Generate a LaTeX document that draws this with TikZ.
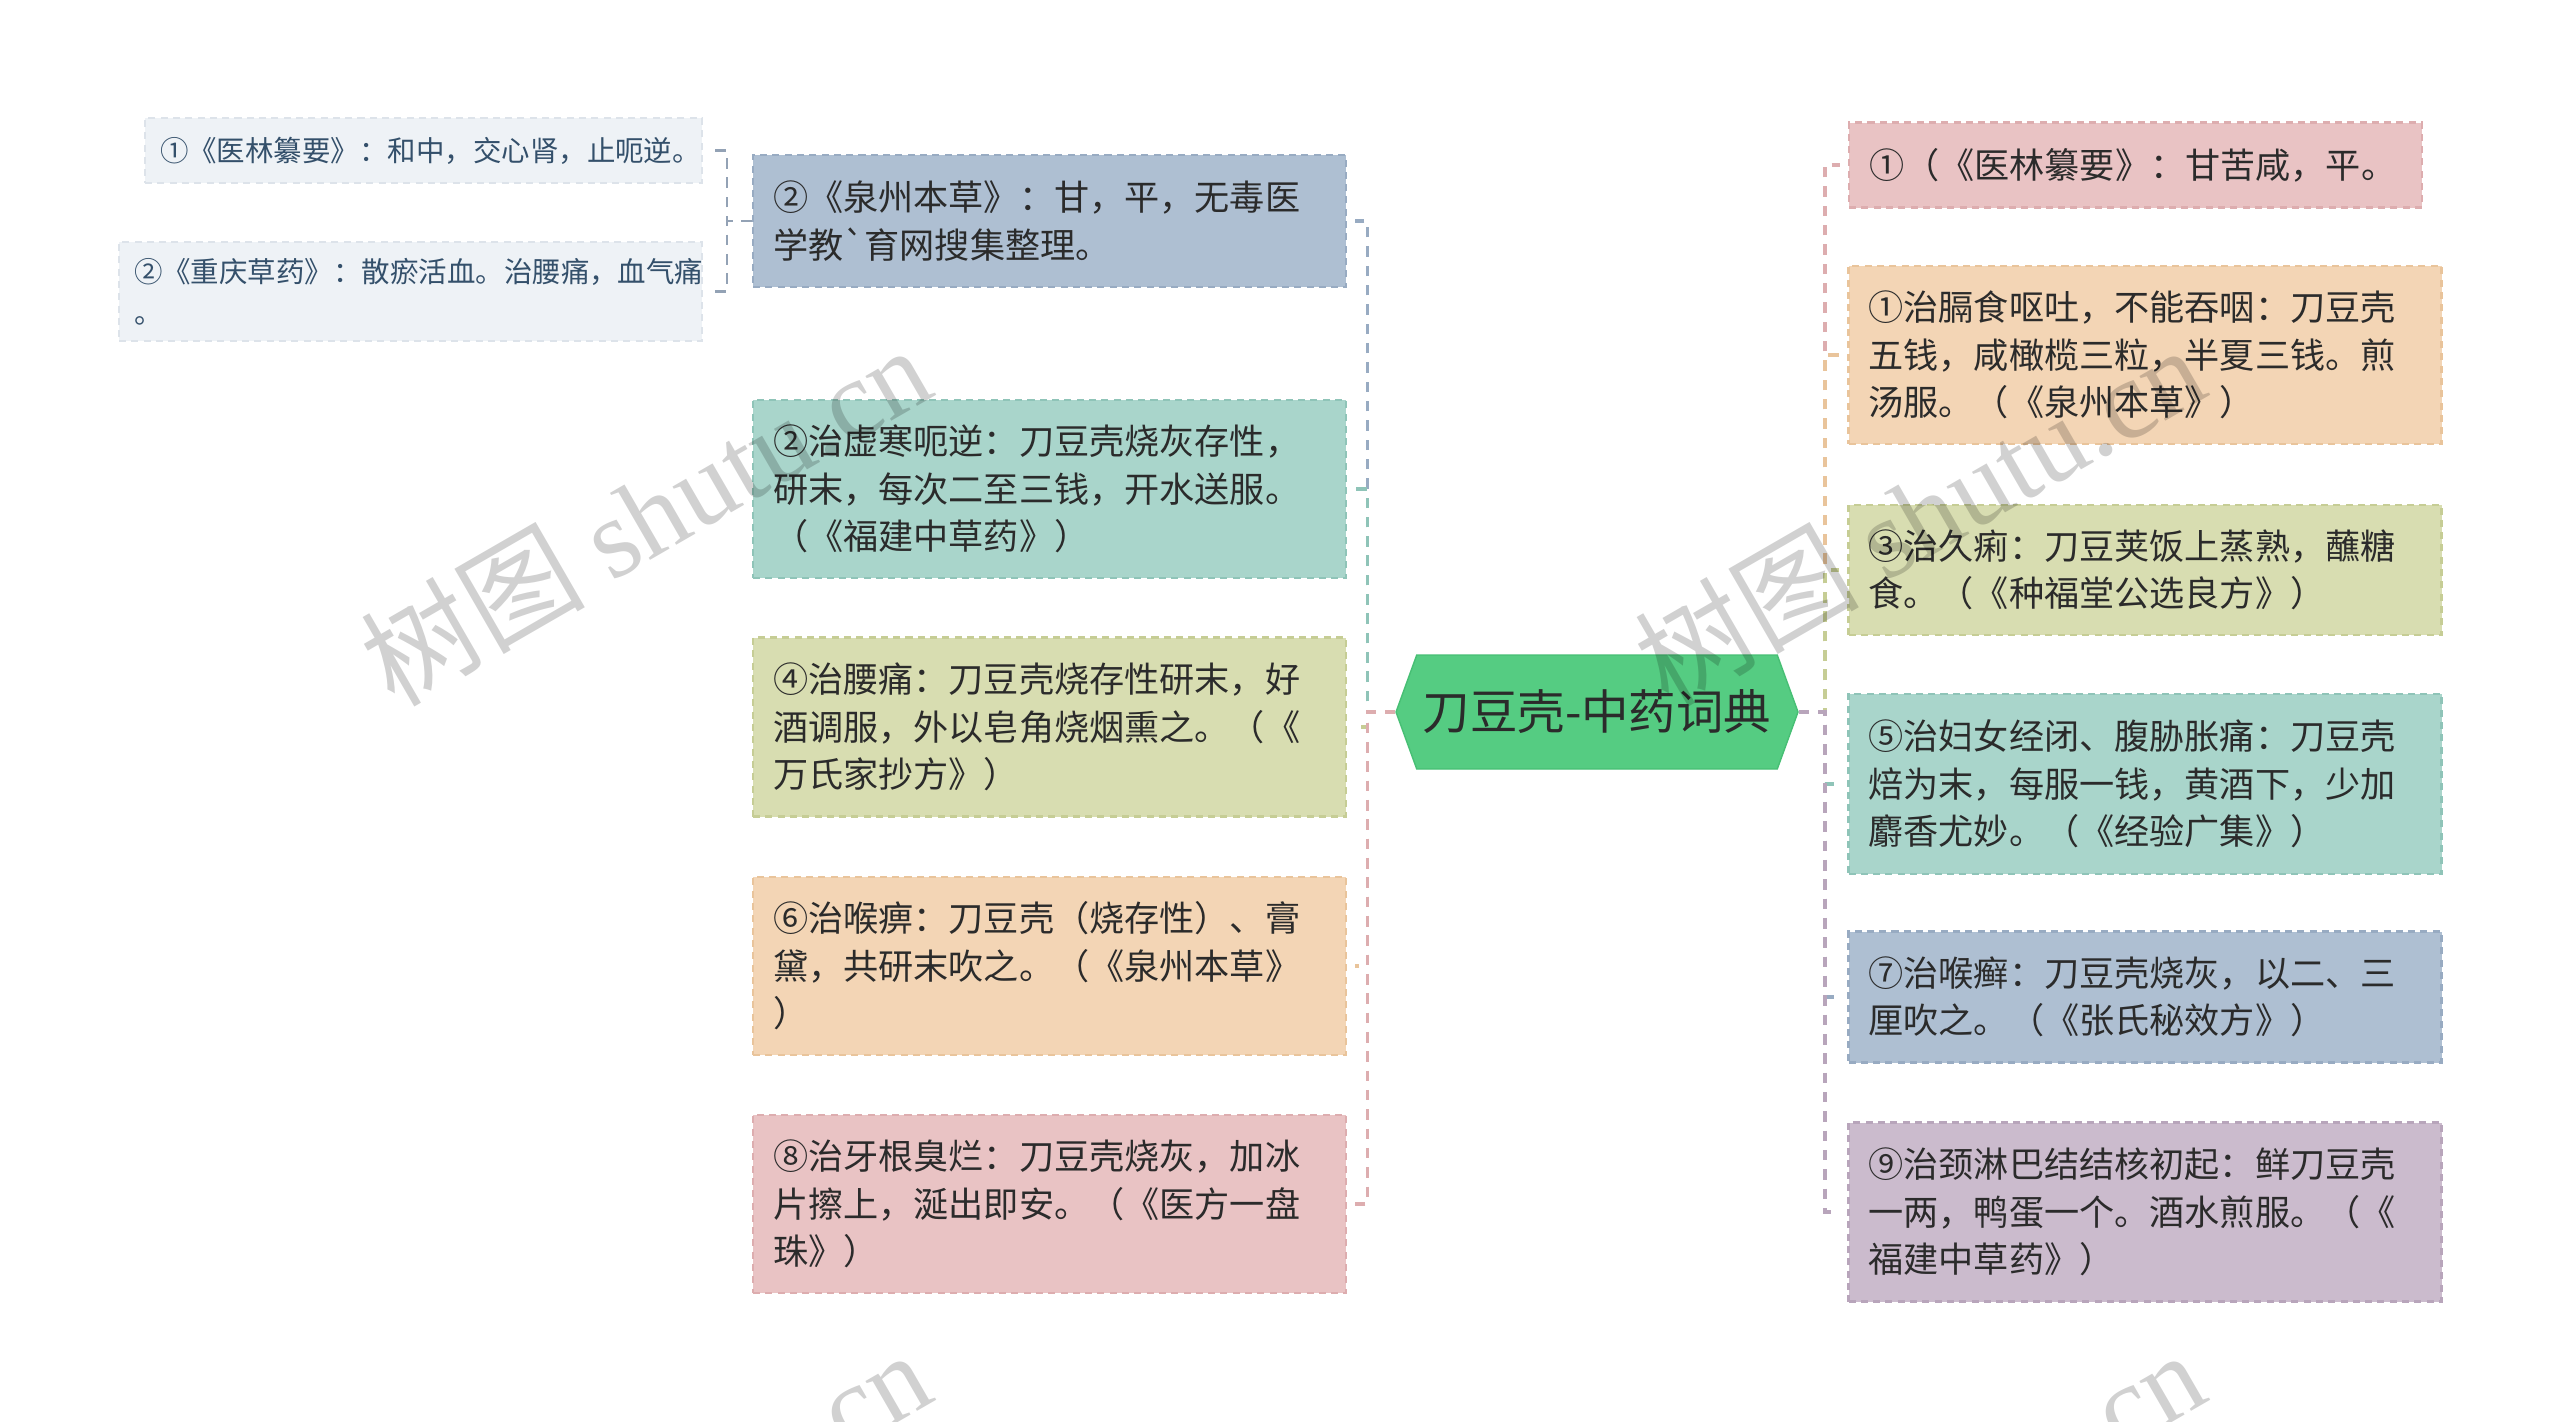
\documentclass[tikz,border=0pt]{standalone}
\usepackage{fontspec}
\setmainfont{Noto Sans CJK SC}
\newfontfamily\markfont{Liberation Serif}
\usetikzlibrary{shapes.symbols}
\definecolor{ink}{HTML}{2B2B2B}
\definecolor{navy}{HTML}{34506B}
\definecolor{slate}{HTML}{AEBFD2}
\definecolor{slateline}{HTML}{98ABC2}
\definecolor{sea}{HTML}{A9D5CB}
\definecolor{sealine}{HTML}{8FC4B8}
\definecolor{olive}{HTML}{D8DDB1}
\definecolor{oliveline}{HTML}{C6CD95}
\definecolor{peach}{HTML}{F3D5B5}
\definecolor{peachline}{HTML}{E9C49B}
\definecolor{rose}{HTML}{E9C3C4}
\definecolor{roseline}{HTML}{DDADAF}
\definecolor{plum}{HTML}{CBBBCD}
\definecolor{plumline}{HTML}{B8A5BB}
\definecolor{mist}{HTML}{EEF2F6}
\definecolor{mistline}{HTML}{DDE3EA}
\definecolor{leaf}{HTML}{55CC82}
\definecolor{leafline}{HTML}{47BF74}

\begin{document}
\begin{tikzpicture}[x=0.1mm, y=-0.1mm]
        \pgfdeclarelayer{nodelayer}
        \pgfdeclarelayer{edgelayer}
        \pgfsetlayers{edgelayer,nodelayer,main}
        \tikzstyle{card}=[shape=rectangle, dash pattern=on 2pt off 1.5pt, line width=0.6pt, inner xsep=2mm, inner ysep=0pt, text width=55.3mm, align=left, text=ink, font=\fontsize{10pt}{13.5pt}\selectfont]
        \tikzstyle{note}=[card, fill=mist, draw=mistline, inner xsep=1.5mm, text=navy, font=\fontsize{8.1pt}{11.6pt}\selectfont]
        \tikzstyle{root}=[shape=signal, signal to=east and west, signal pointer angle=140, fill=leaf, draw=leafline, minimum width=40.2mm, minimum height=11.4mm, inner sep=0pt, text=ink, font=\fontsize{13.5pt}{16pt}\selectfont]
        \tikzstyle{branch}=[dash pattern=on 3pt off 2.5pt, line width=1pt, shorten >=0.8mm]
        \tikzstyle{watermark}=[rotate=30, text=black, text opacity=0.18, font=\fontsize{32pt}{36pt}\selectfont]
        \useasboundingbox (0,0) rectangle (2560,1421);
        \begin{pgfonlayer}{nodelayer}
            \node [style=root] (0) at (1597, 712) {刀豆壳-中药词典};
            % left side
            \node [style=card, fill=slate, draw=slateline, minimum height=13.2mm] (1) at (1049.5, 221) {②《泉州本草》：甘，平，无毒医\\学教\textasciigrave 育网搜集整理。};
            \node [style=card, fill=sea, draw=sealine, minimum height=17.8mm] (2) at (1049.5, 489) {②治虚寒呃逆：刀豆壳烧灰存性，\\研末，每次二至三钱，开水送服。\\（《福建中草药》）};
            \node [style=card, fill=olive, draw=oliveline, minimum height=17.9mm] (3) at (1049.5, 727) {④治腰痛：刀豆壳烧存性研末，好\\酒调服，外以皂角烧烟熏之。（《\\万氏家抄方》）};
            \node [style=card, fill=peach, draw=peachline, minimum height=17.8mm] (4) at (1049.5, 966) {⑥治喉痹：刀豆壳（烧存性）、膏\\黛，共研末吹之。（《泉州本草》\\）};
            \node [style=card, fill=rose, draw=roseline, minimum height=17.8mm] (5) at (1049.5, 1204) {⑧治牙根臭烂：刀豆壳烧灰，加冰\\片擦上，涎出即安。（《医方一盘\\珠》）};
            % right side
            \node [style=card, fill=rose, draw=roseline, text width=53.3mm, minimum height=8.5mm] (6) at (2135.5, 165) {①（《医林纂要》：甘苦咸，平。};
            \node [style=card, fill=peach, draw=peachline, minimum height=17.8mm] (7) at (2145, 355) {①治膈食呕吐，不能吞咽：刀豆壳\\五钱，咸橄榄三粒，半夏三钱。煎\\汤服。（《泉州本草》）};
            \node [style=card, fill=olive, draw=oliveline, minimum height=13mm] (8) at (2145, 570) {③治久痢：刀豆荚饭上蒸熟，蘸糖\\食。（《种福堂公选良方》）};
            \node [style=card, fill=sea, draw=sealine, minimum height=18mm] (9) at (2145, 784) {⑤治妇女经闭、腹胁胀痛：刀豆壳\\焙为末，每服一钱，黄酒下，少加\\麝香尤妙。（《经验广集》）};
            \node [style=card, fill=slate, draw=slateline, minimum height=13.1mm] (10) at (2145, 997) {⑦治喉癣：刀豆壳烧灰，以二、三\\厘吹之。（《张氏秘效方》）};
            \node [style=card, fill=plum, draw=plumline, minimum height=17.9mm] (11) at (2145, 1212) {⑨治颈淋巴结结核初起：鲜刀豆壳\\一两，鸭蛋一个。酒水煎服。（《\\福建中草药》）};
            % far left
            \node [style=note, text width=52.7mm, minimum height=6.5mm] (12) at (423.5, 150.5) {①《医林纂要》：和中，交心肾，止呃逆。};
            \node [style=note, text width=55.3mm, minimum height=9.9mm] (13) at (410.5, 291.5) {②《重庆草药》：散瘀活血。治腰痛，血气痛\\。};
        \end{pgfonlayer}
        \begin{pgfonlayer}{edgelayer}
            \draw [style=branch, draw=slateline] (0.west) -- ++(-28,0) |- (1.east);
            \draw [style=branch, draw=sealine] (0.west) -- ++(-28,0) |- (2.east);
            \draw [style=branch, draw=oliveline] (0.west) -- ++(-28,0) |- (3.east);
            \draw [style=branch, draw=peachline] (0.west) -- ++(-28,0) |- (4.east);
            \draw [style=branch, draw=roseline] (0.west) -- ++(-28,0) |- (5.east);

            \draw [style=branch, draw=roseline] (0.east) -- ++(26,0) |- (6.west);
            \draw [style=branch, draw=peachline] (0.east) -- ++(26,0) |- (7.west);
            \draw [style=branch, draw=oliveline] (0.east) -- ++(26,0) |- (8.west);
            \draw [style=branch, draw=sealine] (0.east) -- ++(26,0) |- (9.west);
            \draw [style=branch, draw=slateline] (0.east) -- ++(26,0) |- (10.west);
            \draw [style=branch, draw=plumline] (0.east) -- ++(26,0) |- (11.west);

            \draw [style=branch, draw=slateline!80!gray, line width=0.7pt, shorten >=1.1mm] (1.west) -- ++(-25,0) |- (12.east);
            \draw [style=branch, draw=slateline!80!gray, line width=0.7pt, shorten >=1.1mm] (1.west) -- ++(-25,0) |- (13.east);
        \end{pgfonlayer}
        % watermark
        \node [style=watermark] (14) at (645, 514) {树图 {\markfont shutu.cn}};
        \node [style=watermark] (15) at (1919, 514) {树图 {\markfont shutu.cn}};
        \node [style=watermark] (16) at (645, 1519) {树图 {\markfont shutu.cn}};
        \node [style=watermark] (17) at (1919, 1519) {树图 {\markfont shutu.cn}};
\end{tikzpicture}
\end{document}
